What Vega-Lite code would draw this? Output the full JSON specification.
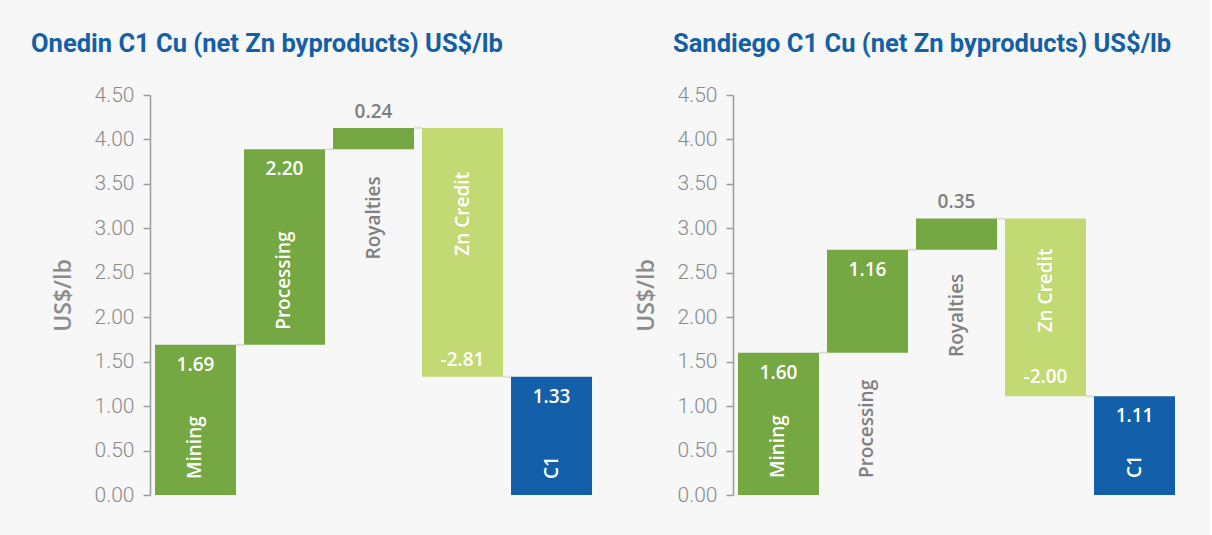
{
  "$schema": "https://vega.github.io/schema/vega-lite/v6.json",
  "background": "#f7f7f7",
  "padding": {"left": 31, "top": 31, "right": 30, "bottom": 30},
  "spacing": 38,
  "config": {
    "view": {"stroke": null},
    "title": {"font": "Roboto", "fontSize": 25.5, "fontWeight": 700, "color": "#145fa5", "anchor": "start", "frame": "group", "offset": 27},
    "axisY": {
      "labelFont": "Roboto", "labelFontWeight": 300, "labelFontSize": 21, "labelColor": "#8a8a8a",
      "labelPadding": 9, "tickSize": 7, "tickColor": "#9a9a9a", "domainColor": "#9a9a9a",
      "tickWidth": 1.5, "domainWidth": 1.5, "grid": false,
      "titleFont": "Open Sans", "titleFontWeight": 600, "titleFontSize": 23, "titleColor": "#8c8c8c", "titlePadding": 19
    },
    "text": {"font": "Open Sans", "fontWeight": 600, "fontSize": 19}
  },
  "datasets": {
    "onedin": [
      {"cat": "Mining", "start": 0, "end": 1.69, "label": "1.69", "next": "Processing", "kind": "cost"},
      {"cat": "Processing", "start": 1.69, "end": 3.89, "label": "2.20", "next": "Royalties", "kind": "cost"},
      {"cat": "Royalties", "start": 3.89, "end": 4.13, "label": "0.24", "next": "Zn Credit", "kind": "cost"},
      {"cat": "Zn Credit", "start": 4.13, "end": 1.33, "label": "-2.81", "next": "C1", "kind": "credit"},
      {"cat": "C1", "start": 0, "end": 1.33, "label": "1.33", "next": null, "kind": "total"}
    ],
    "sandiego": [
      {"cat": "Mining", "start": 0, "end": 1.60, "label": "1.60", "next": "Processing", "kind": "cost"},
      {"cat": "Processing", "start": 1.60, "end": 2.76, "label": "1.16", "next": "Royalties", "kind": "cost"},
      {"cat": "Royalties", "start": 2.76, "end": 3.11, "label": "0.35", "next": "Zn Credit", "kind": "cost"},
      {"cat": "Zn Credit", "start": 3.11, "end": 1.11, "label": "-2.00", "next": "C1", "kind": "credit"},
      {"cat": "C1", "start": 0, "end": 1.11, "label": "1.11", "next": null, "kind": "total"}
    ]
  },
  "hconcat": [
    {
      "width": 447, "height": 400,
      "title": {"text": "Onedin C1 Cu (net Zn byproducts) US$/lb", "dx": -119},
      "data": {"name": "onedin"},
      "encoding": {
        "x": {"field": "cat", "type": "nominal", "sort": null,
              "scale": {"domain": ["Mining", "Processing", "Royalties", "Zn Credit", "C1"], "paddingInner": 0.09, "paddingOuter": 0.056},
              "axis": null}
      },
      "layer": [
        {
          "mark": {"type": "bar"},
          "encoding": {
            "y": {"field": "start", "type": "quantitative", "scale": {"domain": [0, 4.5]},
                  "axis": {"title": "US$/lb", "values": [0, 0.5, 1, 1.5, 2, 2.5, 3, 3.5, 4, 4.5], "format": ".2f"}},
            "y2": {"field": "end"},
            "color": {"field": "kind", "type": "nominal",
                      "scale": {"domain": ["cost", "credit", "total"], "range": ["#75a843", "#c3d973", "#135fa9"]},
                      "legend": null}
          }
        },
        {
          "mark": {"type": "rule", "color": "#dcdcdc", "strokeWidth": 2},
          "transform": [{"filter": "datum.next != null"}],
          "encoding": {
            "x": {"field": "cat", "type": "nominal", "bandPosition": 1},
            "x2": {"field": "next", "bandPosition": 0},
            "y": {"field": "end", "type": "quantitative"}
          }
        },
        {
          "mark": {"type": "text", "color": "white", "baseline": "middle", "dy": 20},
          "transform": [{"filter": {"field": "cat", "oneOf": ["Mining", "Processing", "C1"]}}],
          "encoding": {"y": {"field": "end", "type": "quantitative"}, "text": {"field": "label"}}
        },
        {
          "mark": {"type": "text", "color": "#7f7f7f", "baseline": "middle", "dy": -16},
          "transform": [{"filter": {"field": "cat", "equal": "Royalties"}}],
          "encoding": {"y": {"field": "end", "type": "quantitative"}, "text": {"field": "label"}}
        },
        {
          "mark": {"type": "text", "color": "white", "baseline": "middle", "dy": -17},
          "transform": [{"filter": {"field": "cat", "equal": "Zn Credit"}}],
          "encoding": {"y": {"field": "end", "type": "quantitative"}, "text": {"field": "label"}}
        },
        {
          "mark": {"type": "text", "color": "white", "angle": 270, "align": "left", "baseline": "middle", "dx": 16},
          "transform": [{"filter": {"field": "cat", "oneOf": ["Mining", "C1"]}}],
          "encoding": {"y": {"field": "start", "type": "quantitative"}, "text": {"field": "cat"}}
        },
        {
          "mark": {"type": "text", "color": "white", "angle": 270, "align": "left", "baseline": "middle", "dx": 15},
          "transform": [{"filter": {"field": "cat", "equal": "Processing"}}],
          "encoding": {"y": {"field": "start", "type": "quantitative"}, "text": {"field": "cat"}}
        },
        {
          "mark": {"type": "text", "color": "#7f7f7f", "angle": 270, "align": "right", "baseline": "middle", "dx": -27},
          "transform": [{"filter": {"field": "cat", "equal": "Royalties"}}],
          "encoding": {"y": {"field": "start", "type": "quantitative"}, "text": {"field": "cat"}}
        },
        {
          "mark": {"type": "text", "color": "white", "angle": 270, "align": "right", "baseline": "middle", "dx": -44},
          "transform": [{"filter": {"field": "cat", "equal": "Zn Credit"}}],
          "encoding": {"y": {"field": "start", "type": "quantitative"}, "text": {"field": "cat"}}
        }
      ]
    },
    {
      "width": 447, "height": 400,
      "title": {"text": "Sandiego C1 Cu (net Zn byproducts) US$/lb", "dx": -60},
      "data": {"name": "sandiego"},
      "encoding": {
        "x": {"field": "cat", "type": "nominal", "sort": null,
              "scale": {"domain": ["Mining", "Processing", "Royalties", "Zn Credit", "C1"], "paddingInner": 0.09, "paddingOuter": 0.056},
              "axis": null}
      },
      "layer": [
        {
          "mark": {"type": "bar"},
          "encoding": {
            "y": {"field": "start", "type": "quantitative", "scale": {"domain": [0, 4.5]},
                  "axis": {"title": "US$/lb", "values": [0, 0.5, 1, 1.5, 2, 2.5, 3, 3.5, 4, 4.5], "format": ".2f"}},
            "y2": {"field": "end"},
            "color": {"field": "kind", "type": "nominal",
                      "scale": {"domain": ["cost", "credit", "total"], "range": ["#75a843", "#c3d973", "#135fa9"]},
                      "legend": null}
          }
        },
        {
          "mark": {"type": "rule", "color": "#dcdcdc", "strokeWidth": 2},
          "transform": [{"filter": "datum.next != null"}],
          "encoding": {
            "x": {"field": "cat", "type": "nominal", "bandPosition": 1},
            "x2": {"field": "next", "bandPosition": 0},
            "y": {"field": "end", "type": "quantitative"}
          }
        },
        {
          "mark": {"type": "text", "color": "white", "baseline": "middle", "dy": 20},
          "transform": [{"filter": {"field": "cat", "oneOf": ["Mining", "Processing", "C1"]}}],
          "encoding": {"y": {"field": "end", "type": "quantitative"}, "text": {"field": "label"}}
        },
        {
          "mark": {"type": "text", "color": "#7f7f7f", "baseline": "middle", "dy": -17},
          "transform": [{"filter": {"field": "cat", "equal": "Royalties"}}],
          "encoding": {"y": {"field": "end", "type": "quantitative"}, "text": {"field": "label"}}
        },
        {
          "mark": {"type": "text", "color": "white", "baseline": "middle", "dy": -19},
          "transform": [{"filter": {"field": "cat", "equal": "Zn Credit"}}],
          "encoding": {"y": {"field": "end", "type": "quantitative"}, "text": {"field": "label"}}
        },
        {
          "mark": {"type": "text", "color": "white", "angle": 270, "align": "left", "baseline": "middle", "dx": 17},
          "transform": [{"filter": {"field": "cat", "oneOf": ["Mining", "C1"]}}],
          "encoding": {"y": {"field": "start", "type": "quantitative"}, "text": {"field": "cat"}}
        },
        {
          "mark": {"type": "text", "color": "#7f7f7f", "angle": 270, "align": "right", "baseline": "middle", "dx": -27},
          "transform": [{"filter": {"field": "cat", "equal": "Processing"}}],
          "encoding": {"y": {"field": "start", "type": "quantitative"}, "text": {"field": "cat"}}
        },
        {
          "mark": {"type": "text", "color": "#7f7f7f", "angle": 270, "align": "right", "baseline": "middle", "dx": -24},
          "transform": [{"filter": {"field": "cat", "equal": "Royalties"}}],
          "encoding": {"y": {"field": "start", "type": "quantitative"}, "text": {"field": "cat"}}
        },
        {
          "mark": {"type": "text", "color": "white", "angle": 270, "align": "right", "baseline": "middle", "dx": -30},
          "transform": [{"filter": {"field": "cat", "equal": "Zn Credit"}}],
          "encoding": {"y": {"field": "start", "type": "quantitative"}, "text": {"field": "cat"}}
        }
      ]
    }
  ]
}
